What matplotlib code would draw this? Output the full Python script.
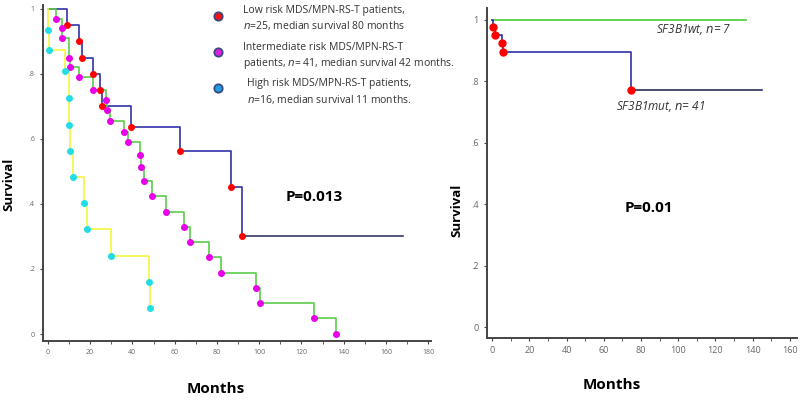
import matplotlib.pyplot as plt
from matplotlib.lines import Line2D
import numpy as np

plt.rcParams['font.family'] = ['Open Sans', 'DejaVu Sans']

# 左图数据：三组风险
low_t = [8.9, 14.8, 16.0, 21.3, 24.8, 25.6, 39.5, 62.7, 86.9, 91.9]
low_s = [0.95, 0.90, 0.85, 0.80, 0.75, 0.70, 0.636, 0.564, 0.451, 0.30]
low_end = 168

mid_t = [3.8, 6.6, 6.6, 9.8, 10.3, 14.8, 21.6, 27.6, 28.0, 29.2, 35.8, 37.9, 43.4,
         44.2, 45.3, 49.3, 55.9, 64.6, 67.4, 76.1, 81.7, 98.7, 100.3, 125.9, 136.2]
mid_s = [0.97, 0.94, 0.91, 0.85, 0.82, 0.79, 0.75, 0.72, 0.69, 0.656, 0.62, 0.59, 0.55,
         0.513, 0.47, 0.426, 0.376, 0.33, 0.284, 0.236, 0.189, 0.14, 0.095, 0.048, 0.0]

high_t = [0.0, 0.6, 8.2, 9.8, 9.8, 10.3, 11.7, 16.9, 18.5, 30.0, 48.0, 48.5]
high_s = [0.935, 0.875, 0.81, 0.725, 0.643, 0.564, 0.484, 0.404, 0.322, 0.24, 0.161, 0.079]

# 右图数据
wt_end = 136.4
mut_t = [0.4, 1.6, 5.2, 5.7, 74.6]
mut_s = [0.978, 0.951, 0.926, 0.897, 0.773]
mut_end = 144.8

yticks = [0, 0.2, 0.4, 0.6, 0.8, 1]
ylabels = ['0', '.2', '.4', '.6', '.8', '1']

legend_text = ['Low risk MDS/MPN-RS-T patients,\n$n$=25, median survival 80 months',
               'Intermediate risk MDS/MPN-RS-T\npatients, $n$= 41, median survival 42 months.',
               'High risk MDS/MPN-RS-T patients,\n$n$=16, median survival 11 months.']
legend_face = ['#ff1010', '#e020e0', '#20a0e0']


def km(ax, t, s, end, color, mcolor, ms=4):
    tt = [0] + list(t) + [end]
    ss = [1] + list(s) + [s[-1]]
    ax.step(tt, ss, where='post', color=color, lw=1.2, zorder=2)
    ax.plot(t, s, 'o', color=mcolor, ms=ms, mec=mcolor, zorder=3)


def style(ax, fs):
    for sp in ['top', 'right']:
        ax.spines[sp].set_visible(False)
    for sp in ['left', 'bottom']:
        ax.spines[sp].set_color('#444444')
        ax.spines[sp].set_linewidth(1.4)
    ax.set_yticks(yticks)
    ax.set_yticklabels(ylabels)
    ax.tick_params(labelsize=fs, labelcolor='#666666', length=2.5, color='#444444')
    ax.tick_params(which='minor', length=2.5, color='#444444')


fig = plt.figure(figsize=(8, 4), dpi=100)

ax1 = fig.add_axes([0.054, 0.1475, 0.485, 0.84])
km(ax1, low_t, low_s, low_end, '#3232a8', '#ff0000')
ax1.hlines(low_s[-1], low_t[-1], low_end, color='#585878', lw=1.4, zorder=2)
km(ax1, mid_t, mid_s, mid_t[-1], '#5ccc4c', '#e800e8')
km(ax1, high_t, high_s, high_t[-1], '#f5f542', '#22dde6')
ax1.set_xlim(-2.2, 181.4)
ax1.set_ylim(-0.0215, 1.012)
ax1.set_xticks(np.arange(0, 181, 20))
ax1.set_xticks(np.arange(10, 181, 20), minor=True)
style(ax1, 5)

ax1.text(126, 0.42, 'P=0.013', fontsize=11, fontweight='bold', ha='center', va='center')

# 图例
for i in range(3):
    y = 1 - (15.7 + 36.2 * i) / 400
    fig.add_artist(Line2D([218 / 800], [y], marker='o', ms=6, mfc=legend_face[i],
                          mec='#3a4a80', mew=1.3, transform=fig.transFigure))
    xoff = [243, 243, 247][i]
    fig.text(xoff / 800, 1 - (5 + 36.5 * i) / 400, legend_text[i], fontsize=7.5, color='#333333',
             ha='left', va='top', linespacing=1.35)

fig.text(9 / 800, 1 - 184 / 400, 'Survival', rotation=90, fontsize=9.5, fontweight='bold',
         ha='center', va='center')
fig.text(216 / 800, 1 - 389 / 400, 'Months', fontsize=11, fontweight='bold',
         ha='center', va='center')

ax2 = fig.add_axes([0.60875, 0.155, 0.3875, 0.825])
ax2.step([0, wt_end], [1, 1], where='post', color='#44cc33', lw=1.2, zorder=2)
km(ax2, mut_t, mut_s, mut_end, '#3030a8', '#ff0000', ms=5)
ax2.hlines(mut_s[-1], mut_t[-1], mut_end, color='#505070', lw=1.4, zorder=2)
ax2.set_xlim(-2.7, 163.8)
ax2.set_ylim(-0.0358, 1.039)
ax2.set_xticks(np.arange(0, 161, 20))
ax2.set_xticks(np.arange(10, 161, 20), minor=True)
style(ax2, 6.5)

ax2.text(88, 0.968, 'SF3B1wt, $n$= 7', fontsize=8.5, style='italic', color='#333333',
         ha='left', va='center')
ax2.text(66.5, 0.7195, 'SF3B1mut, $n$= 41', fontsize=8.5, style='italic', color='#333333',
         ha='left', va='center')
ax2.text(84, 0.389, 'P=0.01', fontsize=11, fontweight='bold', ha='center', va='center')

fig.text(457 / 800, 1 - 210 / 400, 'Survival', rotation=90, fontsize=9.5, fontweight='bold',
         ha='center', va='center')
fig.text(612 / 800, 1 - 385 / 400, 'Months', fontsize=11, fontweight='bold',
         ha='center', va='center')

plt.savefig('out.png', dpi=100)
